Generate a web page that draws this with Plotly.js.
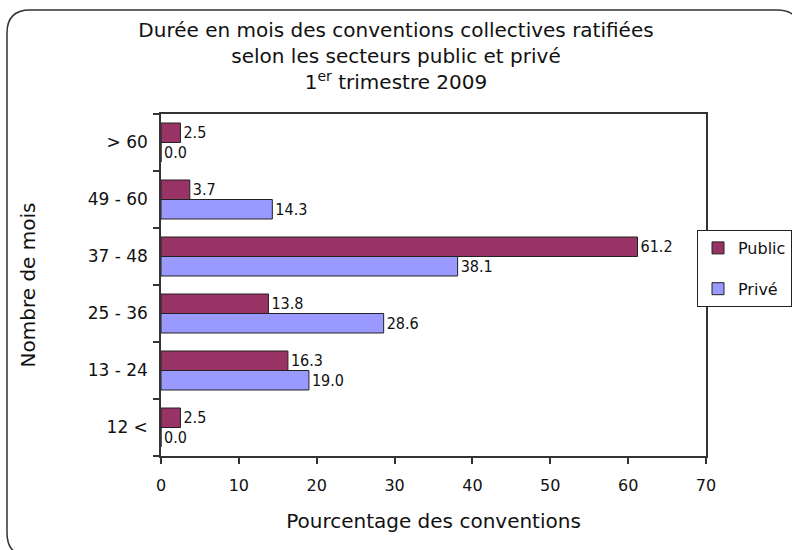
<!DOCTYPE html>
<html>
<head>
<meta charset="utf-8">
<script src="https://cdn.plot.ly/plotly-3.0.1.min.js"></script>
<style>html,body{margin:0;padding:0;background:#fff;}#chart{width:792px;height:550px;}</style>
</head>
<body>
<div id="chart"></div>
<script>
var categories = ['12 <', '13 - 24', '25 - 36', '37 - 48', '49 - 60', '> 60'];
var publicValues = [2.5, 16.3, 13.8, 61.2, 3.7, 2.5];
var priveValues = [0.0, 19.0, 28.6, 38.1, 14.3, 0.0];
var xTickValues = [0, 10, 20, 30, 40, 50, 60, 70];
var seriesNames = ['Public', 'Privé'];

var M = {l: 161, r: 86, t: 114, b: 94, autoexpand: false};
var W = 792, H = 550;
var pw = W - M.l - M.r, ph = H - M.t - M.b;
function px(x) { return (x - M.l) / pw; }
function py(y) { return (H - M.b - y) / ph; }

// rounded outer frame (decoration)
var x0 = 7, y0 = 10, x1 = 800, y1 = 556, rr = 23;
var framePath = 'M ' + px(x0) + ',' + py(y0 + rr) +
  ' Q ' + px(x0) + ',' + py(y0) + ' ' + px(x0 + rr) + ',' + py(y0) +
  ' L ' + px(x1 - rr) + ',' + py(y0) +
  ' Q ' + px(x1) + ',' + py(y0) + ' ' + px(x1) + ',' + py(y0 + rr) +
  ' L ' + px(x1) + ',' + py(y1 - rr) +
  ' Q ' + px(x1) + ',' + py(y1) + ' ' + px(x1 - rr) + ',' + py(y1) +
  ' L ' + px(x0 + rr) + ',' + py(y1) +
  ' Q ' + px(x0) + ',' + py(y1) + ' ' + px(x0) + ',' + py(y1 - rr) + ' Z';

var labelFont = {family: '"Liberation Sans Narrow", "DejaVu Sans Condensed", sans-serif', size: 16, color: '#111'};

var tracePrive = {
  type: 'bar', orientation: 'h', name: seriesNames[1], legendgroup: 'b', legendrank: 2,
  y: categories, x: priveValues,
  text: priveValues.map(function (v) { return v.toFixed(1); }),
  textposition: 'outside', textfont: labelFont, cliponaxis: false,
  marker: {color: '#9999FF', line: {color: '#222', width: 1}},
  hoverinfo: 'x+y+name'
};
var tracePublic = {
  type: 'bar', orientation: 'h', name: seriesNames[0], legendgroup: 'a', legendrank: 1,
  y: categories, x: publicValues,
  text: publicValues.map(function (v) { return v.toFixed(1); }),
  textposition: 'outside', textfont: labelFont, cliponaxis: false,
  marker: {color: '#993366', line: {color: '#222', width: 1}},
  hoverinfo: 'x+y+name'
};

var baseFont = 'DejaVu Sans, Verdana, sans-serif';
var layout = {
  width: W, height: H,
  margin: M,
  paper_bgcolor: '#fff', plot_bgcolor: '#fff',
  font: {family: baseFont, color: '#111'},
  title: {
    text: 'Durée en mois des conventions collectives ratifiées<br>selon les secteurs public et privé<br>1<sup>er</sup> trimestre 2009',
    font: {size: 20, family: baseFont, color: '#111'},
    x: 0.5, xref: 'container', xanchor: 'center',
    y: 1 - 37 / H, yref: 'container', yanchor: 'top'
  },
  barmode: 'group',
  bargap: 0.316,
  bargroupgap: 0,
  showlegend: true,
  legend: {
    x: px(697), xanchor: 'left', y: py(230), yanchor: 'top',
    bgcolor: '#fff', bordercolor: '#222', borderwidth: 1,
    font: {size: 16, family: baseFont, color: '#111'},
    traceorder: 'grouped', tracegroupgap: 17, itemwidth: 30
  },
  xaxis: {
    range: [0, 70], tickvals: xTickValues, ticktext: xTickValues.map(String),
    ticks: 'outside', ticklen: 6, tickcolor: '#333', tickwidth: 1.5,
    showline: true, linecolor: '#333', linewidth: 1.5, mirror: true,
    showgrid: false, zeroline: false,
    tickfont: {size: 16, family: baseFont, color: '#111'},
    ticklabelstandoff: 8,
    title: {text: 'Pourcentage des conventions', font: {size: 20, family: baseFont, color: '#111'}, standoff: 20},
    fixedrange: true
  },
  yaxis: {
    type: 'category', categoryorder: 'array', categoryarray: categories,
    ticks: 'outside', ticklen: 6, tickcolor: '#333', tickwidth: 1.5, tickson: 'boundaries',
    showline: true, linecolor: '#333', linewidth: 1.5, mirror: true,
    showgrid: false, zeroline: false,
    tickfont: {size: 17, family: baseFont, color: '#111'},
    ticklabelstandoff: 8,
    title: {text: 'Nombre de mois', font: {size: 20, family: baseFont, color: '#111'}, standoff: 47},
    fixedrange: true
  },
  shapes: [{
    type: 'path', xref: 'paper', yref: 'paper', path: framePath,
    line: {color: '#333', width: 1.5}, fillcolor: 'rgba(0,0,0,0)', layer: 'below'
  }]
};

Plotly.newPlot('chart', [tracePrive, tracePublic], layout, {displayModeBar: false});
</script>
</body>
</html>
